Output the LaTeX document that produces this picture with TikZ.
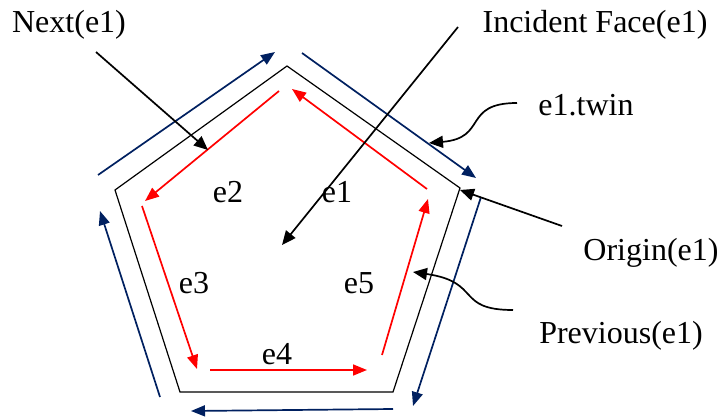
\documentclass[tikz,border=0pt]{standalone}
\usepackage{fontspec}
\setmainfont{Liberation Serif}
\usetikzlibrary{arrows.meta}
\definecolor{navy}{HTML}{002060}
\begin{document}
\begin{tikzpicture}[x=1pt,y=-1pt,
  lbl/.style={anchor=base,inner sep=0pt,font=\fontsize{32}{38}\selectfont},
  halfred/.style={draw=red,line width=1.7pt,-{Triangle[length=14pt,width=11pt]}},
  halfblue/.style={draw=navy,line width=1.7pt,-{Triangle[length=14pt,width=11pt]}},
  pointer/.style={draw=black,line width=1.7pt,-{Triangle[length=14pt,width=12pt]}},
  poly/.style={draw=black,line width=1.2pt}]
\useasboundingbox (0,0) rectangle (725,420);
% pentagon vertices
\coordinate (vT) at (287,66);
\coordinate (vL) at (115,190);
\coordinate (vBL) at (180,392);
\coordinate (vBR) at (393,392);
\coordinate (vR) at (460,188);
\draw[poly] (vT) -- (vL) -- (vBL) -- (vBR) -- (vR) -- cycle;
% inner half-edges (red)
\coordinate (e1s) at (427,189); \coordinate (e1t) at (292,89);
\coordinate (e2s) at (279,91);  \coordinate (e2t) at (145,201);
\coordinate (e3s) at (142,206); \coordinate (e3t) at (197,369);
\coordinate (e4s) at (210,370); \coordinate (e4t) at (367,370);
\coordinate (e5s) at (382,355); \coordinate (e5t) at (428,199);
\draw[halfred] (e1s) -- (e1t);
\draw[halfred] (e2s) -- (e2t);
\draw[halfred] (e3s) -- (e3t);
\draw[halfred] (e4s) -- (e4t);
\draw[halfred] (e5s) -- (e5t);
% outer half-edges (blue)
\coordinate (b1s) at (98,175);  \coordinate (b1t) at (275,52);
\coordinate (b2s) at (302,53);  \coordinate (b2t) at (476,178);
\coordinate (b3s) at (481,197); \coordinate (b3t) at (413,406);
\coordinate (b4s) at (393,409); \coordinate (b4t) at (191,411);
\coordinate (b5s) at (160,397); \coordinate (b5t) at (100,211);
\draw[halfblue] (b1s) -- (b1t);
\draw[halfblue] (b2s) -- (b2t);
\draw[halfblue] (b3s) -- (b3t);
\draw[halfblue] (b4s) -- (b4t);
\draw[halfblue] (b5s) -- (b5t);
% edge labels
\node[lbl] (l1) at (337,202) {e1};
\node[lbl] (l2) at (228,202) {e2};
\node[lbl] (l3) at (194,293) {e3};
\node[lbl] (l4) at (277,364) {e4};
\node[lbl] (l5) at (359,293) {e5};
% annotation labels
\node[lbl] (next) at (69,33) {Next(e1)};
\node[lbl] (face) at (595,33) {Incident Face(e1)};
\node[lbl] (twin) at (586,115) {e1.twin};
\node[lbl] (orig) at (651,260) {Origin(e1)};
\node[lbl] (prev) at (621,343) {Previous(e1)};
% pointers
\coordinate (ns) at (96,52);   \coordinate (nt) at (208,150);
\coordinate (fs) at (458,27);  \coordinate (ft) at (282,245);
\coordinate (ts) at (517,103); \coordinate (tt) at (429,143);
\coordinate (os) at (562,226); \coordinate (ot) at (460,190);
\coordinate (ps) at (513,310); \coordinate (pt) at (413,272);
\draw[pointer] (ns) -- (nt);
\draw[pointer] (fs) -- (ft);
\draw[pointer] (ts) .. controls (462,103) and (488,138) .. (tt);
\draw[pointer] (os) -- (ot);
\draw[pointer] (ps) .. controls (455,310) and (482,282) .. (pt);
\end{tikzpicture}
\end{document}
